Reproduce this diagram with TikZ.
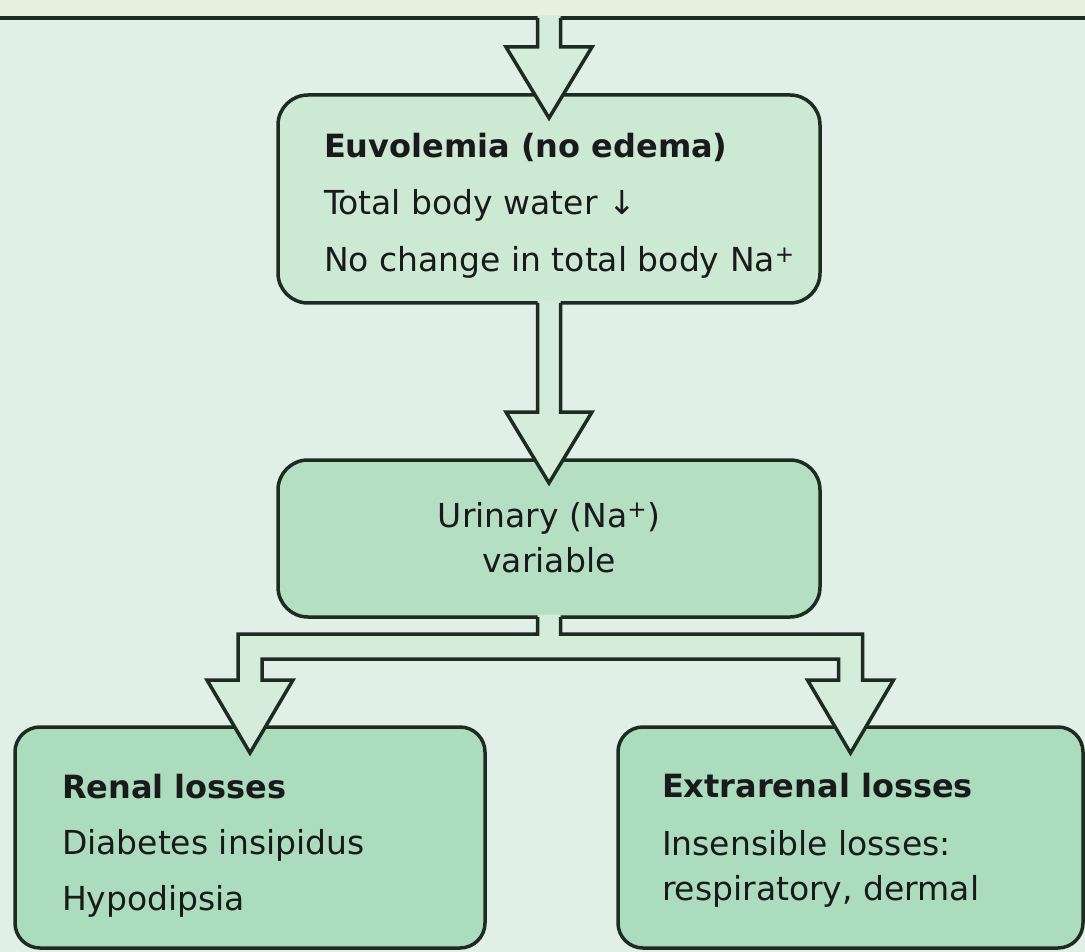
\documentclass[tikz,border=0pt]{standalone}
\usepackage{fontspec}
\setmainfont{DejaVu Sans}
\usetikzlibrary{calc}
\definecolor{bgc}{HTML}{E0F0E6}
\definecolor{bandc}{HTML}{E6F1DF}
\definecolor{boxa}{HTML}{CCE9D3}
\definecolor{boxb}{HTML}{B4DFC3}
\definecolor{boxc}{HTML}{ABDCBD}
\definecolor{afillc}{HTML}{D4ECDA}
\definecolor{linec}{HTML}{1E2B22}
\definecolor{txtc}{HTML}{1A1A1A}
\tikzset{
  boxshape/.style={rectangle, draw=linec, line width=3.5pt, inner sep=0pt, outer sep=0pt},
  afill/.style={fill=afillc},
  aline/.style={draw=linec, line width=3.5pt, line join=miter},
  txt/.style={inner sep=0pt, outer sep=0pt, anchor=base west, text=txtc, font=\fontsize{33}{39}\selectfont},
  txtc/.style={txt, anchor=base},
  txtb/.style={txt, font=\fontsize{32}{38}\selectfont\bfseries},
}
\newcommand\blockarrow[2]{%
  \fill[afill] let \p1=(#1), \p2=(#2) in
    (\x2-11.5pt,\y1+2.5pt) -- (\x2-11.5pt,\y2+71pt) -- (\x2-43pt,\y2+71pt) -- (\x2,\y2)
    -- (\x2+43pt,\y2+71pt) -- (\x2+11.5pt,\y2+71pt) -- (\x2+11.5pt,\y1+2.5pt) -- cycle;
  \draw[aline] let \p1=(#1), \p2=(#2) in
    (\x2-11.5pt,\y1) -- (\x2-11.5pt,\y2+71pt) -- (\x2-43pt,\y2+71pt) -- (\x2,\y2)
    -- (\x2+43pt,\y2+71pt) -- (\x2+11.5pt,\y2+71pt) -- (\x2+11.5pt,\y1);
}
\begin{document}
\begin{tikzpicture}[x=1pt,y=-1pt]
\useasboundingbox (0,0) rectangle (1085,952);
\clip (0,0) rectangle (1085,952);
\fill[bgc] (0,0) rectangle (1085,952);

% top (cut-off) box
\node[boxshape, fill=bandc, minimum width=1200, minimum height=120, anchor=south] (top) at (542.5,18) {};

% boxes
\node[boxshape, fill=boxa, rounded corners=30pt, minimum width=542, minimum height=208, anchor=north west] (euv) at (278,95) {};
\node[boxshape, fill=boxb, rounded corners=30pt, minimum width=542, minimum height=157, anchor=north west] (urin) at (278,460) {};
\node[boxshape, fill=boxc, rounded corners=25pt, minimum width=470, minimum height=221, anchor=north west] (renal) at (15,727) {};
\node[boxshape, fill=boxc, rounded corners=25pt, minimum width=465, minimum height=221, anchor=north west] (extra) at (618,727) {};

% arrows
\coordinate (a1s) at (euv.north |- top.south);
\coordinate (a1t) at ($(euv.north)+(0,23)$);
\blockarrow{a1s}{a1t}
\coordinate (a2t) at ($(urin.north)+(0,23)$);
\blockarrow{euv.south}{a2t}

% split arrow
\coordinate (lt) at ($(renal.north)+(0,26)$);
\coordinate (rt) at ($(extra.north)+(0,26)$);
\fill[afill] let \p1=(urin.south), \p2=(lt), \p3=(rt) in
  (\x1-11.5pt,\y1+2.5pt) -- (\x1-11.5pt,\y1-17pt) -- (\x2-12pt,\y1-17pt) -- (\x2-12pt,\y2+73pt)
  -- (\x2-43pt,\y2+73pt) -- (\x2,\y2) -- (\x2+43pt,\y2+73pt) -- (\x2+12pt,\y2+73pt)
  -- (\x2+12pt,\y1-42pt) -- (\x3-12pt,\y1-42pt) -- (\x3-12pt,\y3+73pt) -- (\x3-43pt,\y3+73pt)
  -- (\x3,\y3) -- (\x3+43pt,\y3+73pt) -- (\x3+12pt,\y3+73pt) -- (\x3+12pt,\y1-17pt)
  -- (\x1+11.5pt,\y1-17pt) -- (\x1+11.5pt,\y1+2.5pt) -- cycle;
\draw[aline] let \p1=(urin.south), \p2=(lt), \p3=(rt) in
  (\x1-11.5pt,\y1) -- (\x1-11.5pt,\y1-17pt) -- (\x2-12pt,\y1-17pt) -- (\x2-12pt,\y2+73pt)
  -- (\x2-43pt,\y2+73pt) -- (\x2,\y2) -- (\x2+43pt,\y2+73pt) -- (\x2+12pt,\y2+73pt)
  -- (\x2+12pt,\y1-42pt) -- (\x3-12pt,\y1-42pt) -- (\x3-12pt,\y3+73pt) -- (\x3-43pt,\y3+73pt)
  -- (\x3,\y3) -- (\x3+43pt,\y3+73pt) -- (\x3+12pt,\y3+73pt) -- (\x3+12pt,\y1-17pt)
  -- (\x1+11.5pt,\y1-17pt) -- (\x1+11.5pt,\y1);

% texts
\node[txtb] (e1) at ($(euv.north west)+(46,63)$) {Euvolemia (no edema)};
\node[txt] (e2) at ($(euv.north west)+(46,120)$) {Total body water ↓};
\node[txt] (e3) at ($(euv.north west)+(46,177)$) {No change in total body Na\textsuperscript{+}};

\node[txtc] (u1) at ($(urin.north)+(0,67)$) {Urinary (Na\textsuperscript{+})};
\node[txtc] (u2) at ($(urin.north)+(0,112)$) {variable};

\node[txtb] (r1) at ($(renal.north west)+(47,71)$) {Renal losses};
\node[txt] (r2) at ($(renal.north west)+(47,127)$) {Diabetes insipidus};
\node[txt] (r3) at ($(renal.north west)+(47,183)$) {Hypodipsia};

\node[txtb] (x1) at ($(extra.north west)+(44,70)$) {Extrarenal losses};
\node[txt] (x2) at ($(extra.north west)+(44,128)$) {Insensible losses:};
\node[txt] (x3) at ($(extra.north west)+(44,173)$) {respiratory, dermal};
\end{tikzpicture}
\end{document}
